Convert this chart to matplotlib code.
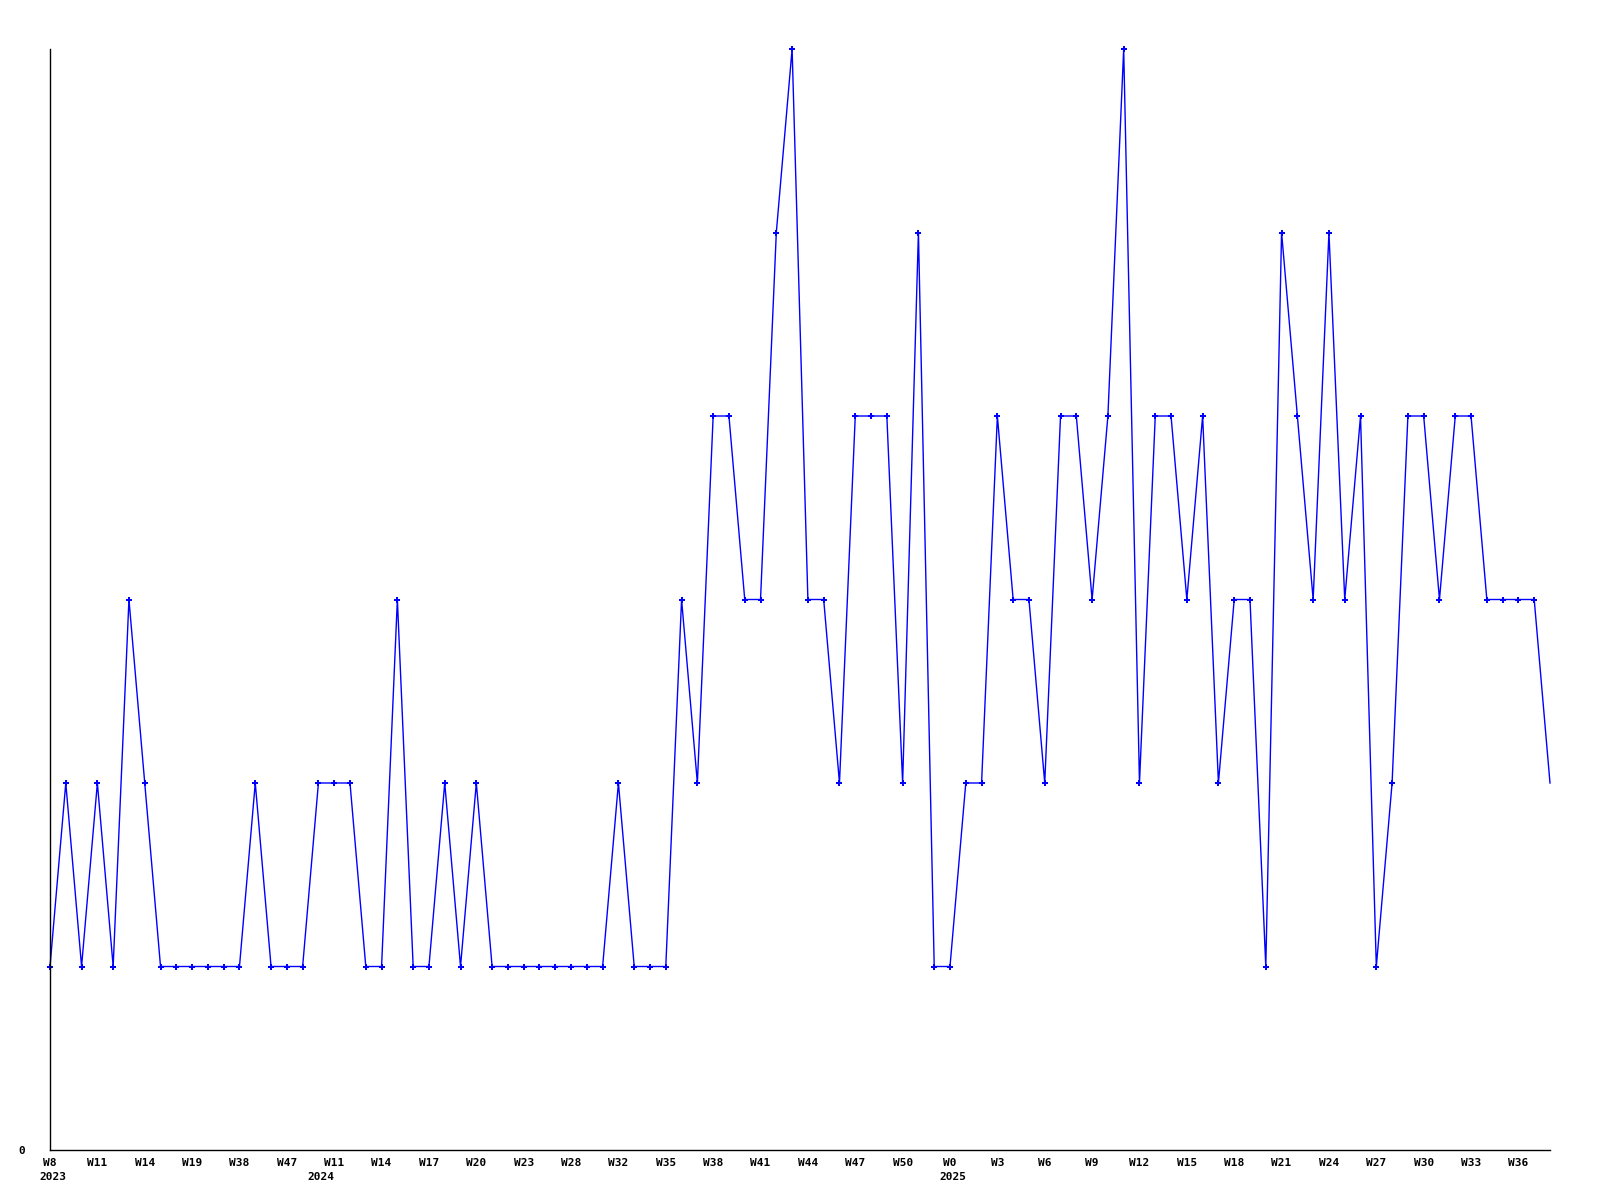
import matplotlib
matplotlib.use("Agg")
import matplotlib.pyplot as plt
import matplotlib.transforms as mtransforms

values = [1, 2, 1, 2, 1, 3, 2, 1, 1, 1, 1, 1, 1, 2, 1, 1, 1, 2, 2, 2,
          1, 1, 3, 1, 1, 2, 1, 2, 1, 1, 1, 1, 1, 1, 1, 1, 2, 1, 1, 1,
          3, 2, 4, 4, 3, 3, 5, 6, 3, 3, 2, 4, 4, 4, 2, 5, 1, 1, 2, 2,
          4, 3, 3, 2, 4, 4, 3, 4, 6, 2, 4, 4, 3, 4, 2, 3, 3, 1, 5, 4,
          3, 5, 3, 4, 1, 2, 4, 4, 3, 4, 4, 3, 3, 3, 3, 2]

week_labels = ["W8", "W11", "W14", "W19", "W38", "W47", "W11", "W14", "W17", "W20",
               "W23", "W28", "W32", "W35", "W38", "W41", "W44", "W47", "W50", "W0",
               "W3", "W6", "W9", "W12", "W15", "W18", "W21", "W24", "W27", "W30",
               "W33", "W36"]
year_labels = ["2023", "2024", "2025"]
year_label_slots = [0, 6, 19]

font = dict(family="DejaVu Sans Mono", weight="bold", size=8)

fig = plt.figure(figsize=(16, 12), dpi=100)
ax = fig.add_axes([50 / 1600, 50 / 1200, 1500 / 1600, 1101 / 1200])

x = list(range(len(values)))
ax.plot(x, values, color="#0000ff", linewidth=1.0, marker="P", markersize=4,
        markeredgewidth=0, markevery=list(range(len(values) - 1)), clip_on=False)

ax.set_xlim(0, len(values) - 1)
ax.set_ylim(0, 6)

ticks = list(range(0, len(values), 3))[:len(week_labels)]
ax.set_xticks(ticks)
ax.set_xticklabels(week_labels, **font)
ax.set_yticks([0])
ax.set_yticklabels(["0"], **font)
ax.tick_params(axis="both", length=0)
ax.tick_params(axis="x", pad=6)
ax.tick_params(axis="y", pad=18)

for s in ["top", "right"]:
    ax.spines[s].set_visible(False)
for s in ["left", "bottom"]:
    ax.spines[s].set_color("black")
    ax.spines[s].set_linewidth(1)

trans = mtransforms.blended_transform_factory(ax.transData, ax.transAxes)
offsets = [3, -13, 3]
for lab, slot, off in zip(year_labels, year_label_slots, offsets):
    t = mtransforms.offset_copy(trans, fig=fig, x=off * 0.72, y=-27 * 0.72, units="points")
    ax.text(ticks[slot], 0, lab, transform=t, ha="center", va="center", **font)

fig.savefig("out.png", dpi=100)
